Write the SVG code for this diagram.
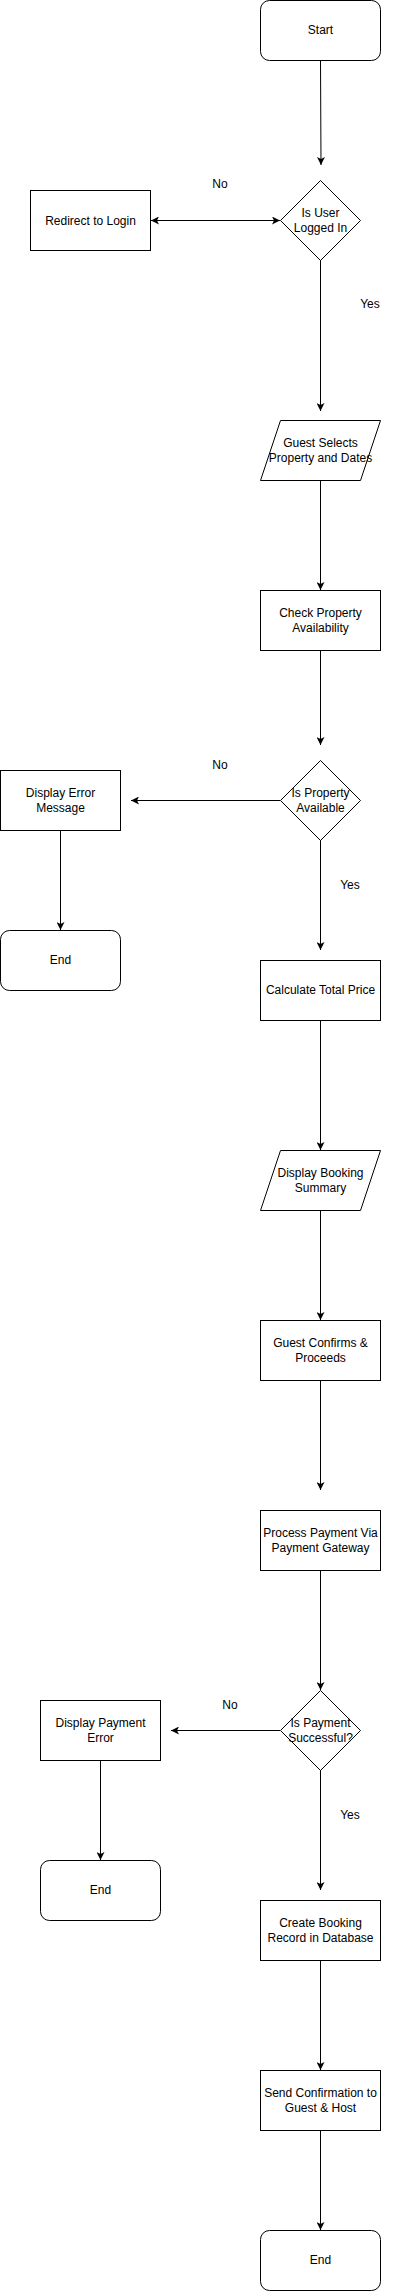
<svg xmlns="http://www.w3.org/2000/svg" width="401" height="2291" viewBox="0 0 401 2291">
<style>
.s{fill:#fff;stroke:#000;stroke-width:1}
.t{font-family:"Liberation Sans",Arial,sans-serif;font-size:12px;fill:#000;text-anchor:middle}
.c{fill:none;stroke:#000;stroke-width:1}
</style>
<defs>
<marker id="a" viewBox="0 0 8 8" refX="8" refY="4" markerWidth="8" markerHeight="8" markerUnits="userSpaceOnUse" orient="auto-start-reverse">
<path d="M0,0 L8,4 L0,8 L2,4 Z" fill="#000"/>
</marker>
</defs>
<rect width="401" height="2291" fill="#fff"/>
<g id="connectors">
<path class="c" d="M320.5,60.5 L321,165" marker-end="url(#a)"/>
<path class="c" d="M151,220.5 L280,220.5" marker-start="url(#a)" marker-end="url(#a)"/>
<path class="c" d="M320.5,260 L320.5,411" marker-end="url(#a)"/>
<path class="c" d="M320.5,480 L320.5,590" marker-end="url(#a)"/>
<path class="c" d="M320.5,650 L320.5,745" marker-end="url(#a)"/>
<path class="c" d="M280,800.5 L131,800.5" marker-end="url(#a)"/>
<path class="c" d="M60.5,830 L60.5,930" marker-end="url(#a)"/>
<path class="c" d="M320.5,840 L320.5,950" marker-end="url(#a)"/>
<path class="c" d="M320.5,1020 L320.5,1150" marker-end="url(#a)"/>
<path class="c" d="M320.5,1210 L320.5,1320" marker-end="url(#a)"/>
<path class="c" d="M320.5,1380 L320.5,1490" marker-end="url(#a)"/>
<path class="c" d="M320.5,1570 L320.5,1690" marker-end="url(#a)"/>
<path class="c" d="M280,1730.5 L171,1730.5" marker-end="url(#a)"/>
<path class="c" d="M100.5,1760 L100.5,1860" marker-end="url(#a)"/>
<path class="c" d="M320.5,1770 L320.5,1890" marker-end="url(#a)"/>
<path class="c" d="M320.5,1960 L320.5,2070" marker-end="url(#a)"/>
<path class="c" d="M320.5,2130 L320.5,2230" marker-end="url(#a)"/>
<text class="t" x="220" y="188">No</text>
<text class="t" x="370" y="308">Yes</text>
<text class="t" x="220" y="769">No</text>
<text class="t" x="350" y="889">Yes</text>
<text class="t" x="230" y="1709">No</text>
<text class="t" x="350" y="1819">Yes</text>
</g>
<g id="start">
<rect class="s" x="260.5" y="0.5" width="120" height="60" rx="9"/>
<text class="t" x="320.5" y="34">Start</text>
</g>
<g id="loggedin">
<polygon class="s" points="320.5,180.5 360.5,220.5 320.5,260.5 280.5,220.5"/>
<text class="t" x="320.5" y="216.5">Is User</text>
<text class="t" x="320.5" y="232">Logged In</text>
</g>
<g id="redirect">
<rect class="s" x="30.5" y="190.5" width="120" height="60"/>
<text class="t" x="90.5" y="224.5">Redirect to Login</text>
</g>
<g id="select">
<polygon class="s" points="280.5,420.5 380.5,420.5 360.5,480.5 260.5,480.5"/>
<text class="t" x="320.5" y="447">Guest Selects</text>
<text class="t" x="320.5" y="462">Property and Dates</text>
</g>
<g id="check">
<rect class="s" x="260.5" y="590.5" width="120" height="60"/>
<text class="t" x="320.5" y="616.5">Check Property</text>
<text class="t" x="320.5" y="632">Availability</text>
</g>
<g id="available">
<polygon class="s" points="320.5,760.5 360.5,800.5 320.5,840.5 280.5,800.5"/>
<text class="t" x="320.5" y="797">Is Property</text>
<text class="t" x="320.5" y="811.5">Available</text>
</g>
<g id="errormsg">
<rect class="s" x="0.5" y="770.5" width="120" height="60"/>
<text class="t" x="60.5" y="797">Display Error</text>
<text class="t" x="60.5" y="811.5">Message</text>
</g>
<g id="end1">
<rect class="s" x="0.5" y="930.5" width="120" height="60" rx="9"/>
<text class="t" x="60.5" y="964">End</text>
</g>
<g id="price">
<rect class="s" x="260.5" y="960.5" width="120" height="60"/>
<text class="t" x="320.5" y="994">Calculate Total Price</text>
</g>
<g id="summary">
<polygon class="s" points="280.5,1150.5 380.5,1150.5 360.5,1210.5 260.5,1210.5"/>
<text class="t" x="320.5" y="1177">Display Booking</text>
<text class="t" x="320.5" y="1192">Summary</text>
</g>
<g id="confirm">
<rect class="s" x="260.5" y="1320.5" width="120" height="60"/>
<text class="t" x="320.5" y="1347">Guest Confirms &amp;</text>
<text class="t" x="320.5" y="1362">Proceeds</text>
</g>
<g id="payment">
<rect class="s" x="260.5" y="1510.5" width="120" height="60"/>
<text class="t" x="320.5" y="1537">Process Payment Via</text>
<text class="t" x="320.5" y="1552">Payment Gateway</text>
</g>
<g id="success">
<polygon class="s" points="320.5,1690.5 360.5,1730.5 320.5,1770.5 280.5,1730.5"/>
<text class="t" x="320.5" y="1727">Is Payment</text>
<text class="t" x="320.5" y="1742">Successful?</text>
</g>
<g id="payerror">
<rect class="s" x="40.5" y="1700.5" width="120" height="60"/>
<text class="t" x="100.5" y="1727">Display Payment</text>
<text class="t" x="100.5" y="1742">Error</text>
</g>
<g id="end2">
<rect class="s" x="40.5" y="1860.5" width="120" height="60" rx="9"/>
<text class="t" x="100.5" y="1894">End</text>
</g>
<g id="record">
<rect class="s" x="260.5" y="1900.5" width="120" height="60"/>
<text class="t" x="320.5" y="1927">Create Booking</text>
<text class="t" x="320.5" y="1942">Record in Database</text>
</g>
<g id="send">
<rect class="s" x="260.5" y="2070.5" width="120" height="60"/>
<text class="t" x="320.5" y="2097">Send Confirmation to</text>
<text class="t" x="320.5" y="2112">Guest &amp; Host</text>
</g>
<g id="end3">
<rect class="s" x="260.5" y="2230.5" width="120" height="60" rx="9"/>
<text class="t" x="320.5" y="2264">End</text>
</g>
</svg>
